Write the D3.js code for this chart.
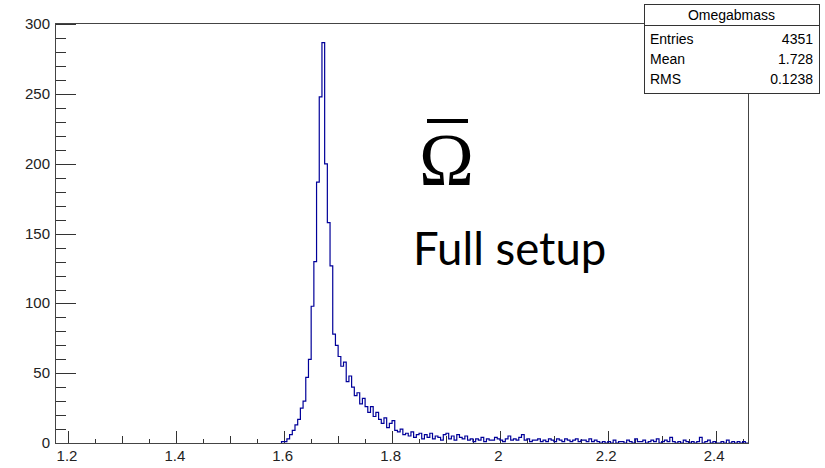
<!DOCTYPE html>
<html>
<head>
<meta charset="utf-8">
<script src="https://cdn.jsdelivr.net/npm/d3@7"></script>
<style>
  body { margin: 0; background: #fff; }
  svg { display: block; }
</style>
</head>
<body>
<div id="vis"></div>
<script>
// histogram of the Omega-bar invariant mass (bins of 0.005)
var binStart = 1.595;
var binWidth = 0.005;
var counts = [
  1, 1, 3, 6, 9, 13, 17, 25, 30, 47,
  60, 98, 130, 187, 248, 287, 200, 158, 127, 78,
  70, 62, 55, 58, 44, 48, 40, 34, 36, 28,
  32, 26, 22, 26, 19, 22, 17, 14, 18, 11,
  14, 16, 9, 8, 10, 6, 7, 5, 8, 4,
  6, 7, 3, 6, 4, 7, 3, 5, 4, 2,
  6, 7, 3, 5, 2, 6, 4, 3, 5, 2,
  3, 1, 3, 2, 4, 1, 3, 2, 2, 4,
  3, 2, 1, 3, 5, 2, 3, 2, 4, 6,
  2, 3, 1, 2, 2, 3, 1, 2, 1, 3,
  2, 1, 3, 2, 1, 3, 2, 1, 2, 3,
  1, 2, 2, 1, 3, 1, 2, 1, 0, 1,
  0, 1, 0, 2, 0, 1, 1, 0, 2, 1,
  0, 3, 1, 1, 2, 0, 1, 2, 1, 3,
  0, 1, 2, 1, 4, 1, 0, 1, 0, 2,
  1, 0, 1, 0, 1, 4, 0, 1, 2, 0,
  1, 0, 0, 1, 0, 2, 0, 1, 0, 1,
  0, 1, 0
];

var xDomain = [1.175, 2.46];
var yDomain = [0, 301];
var xMajor = [1.2, 1.4, 1.6, 1.8, 2.0, 2.2, 2.4];
var xLabels = ["1.2", "1.4", "1.6", "1.8", "2", "2.2", "2.4"];
var yMajor = [0, 50, 100, 150, 200, 250, 300];

var histTitle = "Omegabmass";
var statLabels = ["Entries", "Mean", "RMS"];
var statValues = ["4351", "1.728", "0.1238"];

var W = 825, H = 468;
var pLeft = 55, pRight = 748, pTop = 23, pBottom = 443;
var lineColor = "#000099";

var x = d3.scaleLinear().domain(xDomain).range([pLeft, pRight]);
var y = d3.scaleLinear().domain(yDomain).range([pBottom, pTop]);

var svg = d3.select("#vis").append("svg")
    .attr("width", W)
    .attr("height", H);

// ticks (ROOT style, pointing into the frame)
var ticks = svg.append("g").attr("stroke", "#333").attr("stroke-width", 1);

var yMinor = d3.range(0, 301, 10).filter(function(v) { return v % 50 != 0; });
ticks.selectAll(".ymin").data(yMinor).enter().append("line")
    .attr("x1", pLeft).attr("x2", pLeft + 11)
    .attr("y1", function(d) { return Math.round(y(d)) + 0.5; })
    .attr("y2", function(d) { return Math.round(y(d)) + 0.5; });
ticks.selectAll(".ymaj").data(yMajor).enter().append("line")
    .attr("x1", pLeft).attr("x2", pLeft + 21)
    .attr("y1", function(d) { return Math.round(y(d)) + 0.5; })
    .attr("y2", function(d) { return Math.round(y(d)) + 0.5; });

var xAll = d3.range(0, 26).map(function(i) { return +(1.2 + 0.05 * i).toFixed(2); });
ticks.selectAll(".xt").data(xAll).enter().append("line")
    .attr("x1", function(d) { return Math.round(x(d)) + 0.5; })
    .attr("x2", function(d) { return Math.round(x(d)) + 0.5; })
    .attr("y1", pBottom)
    .attr("y2", function(d) {
      var k = Math.round(d * 100);
      if (k % 20 == 0) return pBottom - 12;
      if (k % 10 == 0) return pBottom - 7;
      return pBottom - 4;
    });

// histogram outline
var pts = [[binStart, 0]];
counts.forEach(function(c, i) { pts.push([binStart + i * binWidth, c]); });
pts.push([binStart + counts.length * binWidth, 0]);

var line = d3.line()
    .x(function(d) { return x(d[0]); })
    .y(function(d) { return y(d[1]); })
    .curve(d3.curveStepAfter);

svg.append("path")
    .attr("d", line(pts))
    .attr("fill", "none")
    .attr("stroke", lineColor)
    .attr("stroke-width", 1.2);

// frame
svg.append("rect")
    .attr("x", pLeft + 0.5).attr("y", pTop + 0.5)
    .attr("width", pRight - pLeft).attr("height", pBottom - pTop)
    .attr("fill", "none")
    .attr("stroke", "#444")
    .attr("stroke-width", 1);

// tick labels
svg.selectAll(".xl").data(xMajor).enter().append("text")
    .attr("x", function(d) { return x(d) - 1.5; })
    .attr("y", 461)
    .attr("text-anchor", "middle")
    .attr("font-family", "Liberation Sans, Arial, sans-serif")
    .attr("font-size", 15)
    .attr("fill", "#222")
    .text(function(d, i) { return xLabels[i]; });

svg.selectAll(".yl").data(yMajor).enter().append("text")
    .attr("x", pLeft - 5)
    .attr("y", function(d) { return y(d) + 5; })
    .attr("text-anchor", "end")
    .attr("font-family", "Liberation Sans, Arial, sans-serif")
    .attr("font-size", 15)
    .attr("fill", "#222")
    .text(function(d) { return d; });

// stats box
var bx = 644, by = 4, bw = 175, bh = 89, th = 21;
var stats = svg.append("g");
stats.append("rect")
    .attr("x", bx + 0.5).attr("y", by + 0.5)
    .attr("width", bw).attr("height", bh)
    .attr("fill", "#fff").attr("stroke", "#333");
stats.append("line")
    .attr("x1", bx).attr("x2", bx + bw)
    .attr("y1", by + th + 0.5).attr("y2", by + th + 0.5)
    .attr("stroke", "#333");
stats.append("text")
    .attr("x", bx + bw / 2).attr("y", by + 16)
    .attr("text-anchor", "middle")
    .attr("font-family", "Liberation Sans, Arial, sans-serif")
    .attr("font-size", 14)
    .text(histTitle);
statLabels.forEach(function(lab, i) {
  var ty = by + th + 19 + i * 20;
  stats.append("text")
      .attr("x", bx + 6).attr("y", ty)
      .attr("font-family", "Liberation Sans, Arial, sans-serif")
      .attr("font-size", 14)
      .text(lab);
  stats.append("text")
      .attr("x", bx + bw - 6).attr("y", ty)
      .attr("text-anchor", "end")
      .attr("font-family", "Liberation Sans, Arial, sans-serif")
      .attr("font-size", 14)
      .text(statValues[i]);
});

// annotations
svg.append("text")
    .attr("x", 419).attr("y", 185)
    .attr("font-family", "Liberation Serif, Times New Roman, serif")
    .attr("font-size", 74)
    .text("\u03A9");
svg.append("line")
    .attr("x1", 427).attr("x2", 468)
    .attr("y1", 121).attr("y2", 121)
    .attr("stroke", "#000").attr("stroke-width", 4);
svg.append("text")
    .attr("x", 413).attr("y", 265)
    .attr("font-family", "Lato, Open Sans, sans-serif")
    .attr("font-size", 45.5)
    .text("Full setup");
</script>
</body>
</html>
